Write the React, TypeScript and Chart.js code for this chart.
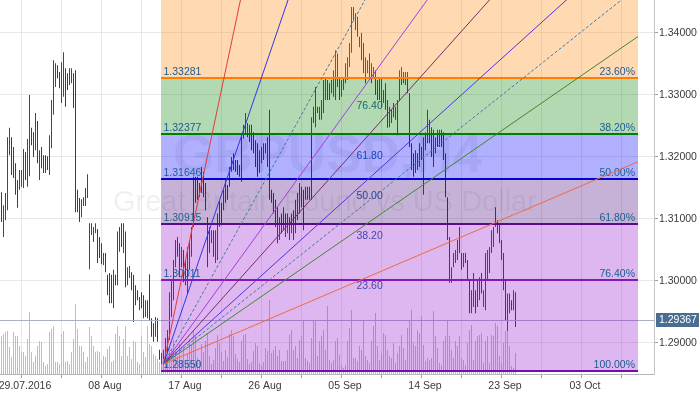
import React, { useEffect, useRef } from 'react';
import { Chart, registerables } from 'chart.js';

Chart.register(...registerables);

// ---- data (GBPUSD H4) ----
const highs = [
  1.3143,1.3122,1.3142,1.3232,1.3247,1.3232,1.3216,1.3190,1.3163,1.3179,
  1.3179,1.3213,1.3208,1.3229,1.3300,1.3247,1.3240,1.3271,1.3258,1.3211,
  1.3216,1.3203,1.3203,1.3201,1.3235,1.3292,1.3356,1.3351,1.3348,1.3337,
  1.3353,1.3369,1.3343,1.3335,1.3343,1.3343,1.3335,1.3340,1.3147,1.3134,
  1.3132,1.3135,1.3150,1.3172,1.3093,1.3093,1.3087,1.3093,1.3084,1.3071,
  1.3061,1.3045,1.3045,1.3010,1.3013,1.3010,1.3018,1.3010,1.3080,1.3087,
  1.3093,1.3093,1.3080,1.3022,1.3024,1.3014,1.3010,1.2993,1.2985,1.2974,
  1.2982,1.2977,1.2969,1.2969,1.3011,1.2940,1.2932,1.2942,1.2940,1.2889,
  1.2884,1.2889,1.2908,1.2921,1.2982,1.3002,1.3034,1.3066,1.3071,1.3061,
  1.3055,1.3050,1.3034,1.3055,1.3066,1.3087,1.3168,1.3168,1.3168,1.3158,
  1.3184,1.3176,1.3158,1.3103,1.3087,1.3082,1.3082,1.3082,1.3109,1.3131,
  1.3126,1.3147,1.3163,1.3155,1.3184,1.3200,1.3206,1.3195,1.3195,1.3187,
  1.3235,1.3252,1.3271,1.3255,1.3252,1.3252,1.3240,1.3227,1.3222,1.3211,
  1.3216,1.3222,1.3222,1.3232,1.3276,1.3147,1.3142,1.3131,1.3119,1.3103,
  1.3109,1.3119,1.3109,1.3109,1.3103,1.3109,1.3114,1.3131,1.3142,1.3158,
  1.3152,1.3147,1.3152,1.3152,1.3152,1.3264,1.3281,1.3313,1.3281,1.3281,
  1.3292,1.3324,1.3329,1.3324,1.3319,1.3324,1.3340,1.3372,1.3367,1.3329,
  1.3324,1.3329,1.3351,1.3361,1.3384,1.3442,1.3442,1.3432,1.3426,1.3394,
  1.3400,1.3384,1.3361,1.3356,1.3367,1.3351,1.3345,1.3340,1.3324,1.3329,
  1.3327,1.3308,1.3319,1.3292,1.3281,1.3276,1.3287,1.3281,1.3292,1.3340,
  1.3345,1.3337,1.3337,1.3337,1.3303,1.3222,1.3206,1.3211,1.3206,1.3222,
  1.3216,1.3232,1.3240,1.3276,1.3260,1.3248,1.3244,1.3232,1.3244,1.3244,
  1.3244,1.3240,1.3206,1.3135,1.3071,1.3022,1.3045,1.3050,1.3066,1.3087,
  1.3045,1.3045,1.3045,1.3034,1.3002,1.2985,1.3013,1.2985,1.3002,1.3006,
  1.3013,1.2985,1.3045,1.3050,1.3055,1.3082,1.3087,1.3119,1.3098,1.3093,
  1.3066,1.3045,1.3002,1.2980,1.2980,1.2969,1.2985,1.2982,
];

const lows = [
  1.3095,1.3071,1.3098,1.3114,1.3203,1.3171,1.3166,1.3139,1.3118,1.3147,
  1.3152,1.3150,1.3163,1.3152,1.3169,1.3219,1.3200,1.3211,1.3190,1.3163,
  1.3182,1.3174,1.3174,1.3179,1.3171,1.3214,1.3268,1.3313,1.3327,1.3311,
  1.3287,1.3297,1.3281,1.3308,1.3316,1.3319,1.3279,1.3111,1.3111,1.3095,
  1.3103,1.3121,1.3121,1.3134,1.3019,1.3074,1.3063,1.3077,1.3029,1.3037,
  1.3027,1.3026,1.3014,1.2977,1.2964,1.2964,1.2956,1.2993,1.2993,1.3047,
  1.3055,1.3045,1.2990,1.2993,1.3005,1.2985,1.2934,1.2961,1.2969,1.2953,
  1.2956,1.2940,1.2942,1.2940,1.2937,1.2910,1.2902,1.2910,1.2902,1.2873,
  1.2864,1.2868,1.2873,1.2884,1.2905,1.2942,1.2969,1.3022,1.3039,1.3006,
  1.3022,1.2998,1.2993,1.2980,1.3018,1.3039,1.3087,1.3126,1.3131,1.3135,
  1.3142,1.3135,1.3114,1.3022,1.3045,1.3061,1.3039,1.3029,1.3034,1.3087,
  1.3090,1.3114,1.3126,1.3131,1.3152,1.3176,1.3179,1.3176,1.3171,1.3168,
  1.3160,1.3230,1.3238,1.3232,1.3224,1.3211,1.3206,1.3184,1.3168,1.3174,
  1.3190,1.3195,1.3206,1.3184,1.3131,1.3126,1.3109,1.3087,1.3061,1.3066,
  1.3077,1.3082,1.3071,1.3077,1.3066,1.3077,1.3066,1.3077,1.3098,1.3109,
  1.3119,1.3082,1.3131,1.3131,1.3131,1.3131,1.3255,1.3248,1.3271,1.3260,
  1.3260,1.3271,1.3292,1.3292,1.3292,1.3303,1.3297,1.3292,1.3313,1.3292,
  1.3297,1.3308,1.3319,1.3324,1.3345,1.3368,1.3421,1.3405,1.3394,1.3377,
  1.3356,1.3335,1.3319,1.3335,1.3324,1.3319,1.3329,1.3300,1.3292,1.3292,
  1.3281,1.3287,1.3276,1.3247,1.3248,1.3255,1.3264,1.3260,1.3235,1.3292,
  1.3316,1.3319,1.3316,1.3303,1.3216,1.3179,1.3168,1.3174,1.3179,1.3184,
  1.3195,1.3139,1.3211,1.3222,1.3222,1.3200,1.3184,1.3206,1.3216,1.3216,
  1.3216,1.3195,1.3135,1.3066,1.2997,1.2997,1.3022,1.3029,1.3034,1.3045,
  1.3018,1.3022,1.3029,1.3002,1.2948,1.2948,1.2958,1.2948,1.2958,1.2969,
  1.2980,1.2958,1.2953,1.3002,1.3013,1.3045,1.3055,1.3087,1.3077,1.3061,
  1.3034,1.2985,1.2937,1.2916,1.2948,1.2953,1.2953,1.2926,
];

// u = bullish bar, d = bearish bar
const barDirection = [
  'duuuuddddu','uuduuddudu','dddduuuudd','uudddudddd','uuuuuuuudd',
  'dudddduduu','duduuddddu','dduddddudd','uuuuuuuudd','udduuuuddu',
  'udddduduuu','duuduuuddd','uuuddddddu','uududddddu','dudududuuu',
  'dduuuuuudu','uuudduuudd','uuuuuudddd','dddudduddd','uudduuuuuu',
  'ududdddu' + 'uu','duuudduudu','ddddduuuud','duddduuduu','duuuuuuudd',
  'ddduudud',
].join('');

// tick volume (hundreds)
const tickVolume = [
  38,40,42,43,27,17,42,38,38,28, 22,22,18,35,62,22,12,18,28,33,
  32,12,8,10,42,45,48,12,12,10, 40,43,12,13,10,22,35,70,45,28,
  28,22,12,17,47,38,28,22,23,22, 13,18,17,25,28,12,13,40,48,38,
  18,35,48,18,27,15,33,32,12,10, 38,22,17,48,30,28,20,18,15,12,
  10,15,12,20,27,25,34,22,18,30, 14,26,11,20,35,29,44,38,16,12,
  30,22,33,40,18,10,14,26,39,31, 22,13,24,17,40,44,38,20,15,12,
  33,39,40,15,10,12,23,31,28,11, 9,12,26,23,74,21,24,28,18,24,
  13,13,13,24,39,44,24,28,16,34, 38,53,16,13,11,36,53,53,18,33,
  38,44,24,68,14,11,14,33,36,19, 9,6,9,33,46,64,16,16,13,28,
  24,53,18,14,11,33,48,61,28,14, 21,41,39,24,18,16,31,11,21,28,
  39,26,14,46,54,64,31,28,44,41, 58,29,13,16,14,16,63,38,26,11,
  9,33,38,53,38,24,16,33,28,38, 16,14,9,31,44,49,14,33,38,39,
  41,11,33,38,11,39,38,51,48,18, 11,31,43,43,28,8,6,21,
];

const dateLabels = ['29.07.2016', '08 Aug', '17 Aug', '26 Aug', '05 Sep', '14 Sep', '23 Sep', '03 Oct'];
const dateLabelIndex = [10, 50, 90, 130, 170, 210, 250, 290];
const gridIndex = [10, 30, 50, 70, 90, 110, 130, 150, 170, 190, 210, 230, 250, 270, 290, 310];
const priceTicks = [1.29, 1.30, 1.31, 1.32, 1.33, 1.34];
const lastPrice = 1.29367;

// Fibonacci retracement
const fibHigh = 1.34742;
const fibLow = 1.28550;
const fibStartIndex = 80;
const fibEndIndex = 318.25;
const fibLevels = [0, 23.6, 38.2, 50, 61.8, 76.4, 100];
const fibBandColors = [
  'rgba(255,128,0,0.3)', 'rgba(0,128,0,0.3)', 'rgba(0,0,255,0.31)',
  'rgba(65,0,118,0.3)', 'rgba(145,12,205,0.3)', 'rgba(145,12,205,0.3)',
];
const fibLineColors = ['#ff8000', '#ff8000', '#008000', '#0000d0', '#5a0a8c', '#8418b8', '#7010a8'];

// Fan
const fanOrigin = { index: 81, price: 1.2866 };
const fanEnd = { index: 175, price: 1.3414 };
const fanRatios = [2.618, 1.618, 1, 0.764, 0.618, 0.5, 0.44, 0.382, 0.236];
const fanColors = ['#e23c3c', '#3535e5', '#3f78a8', '#a83ce0', '#7a2a6a', '#5530e0', '#3f78a8', '#3a8a2a', '#ee6a45'];
const fanDashed = [false, false, true, false, false, false, true, false, false];
const fanLabelRatios = [0.764, 0.618, 0.5, 0.382, 0.236];
const fanLabels = ['76.40', '61.80', '50.00', '38.20', '23.60'];

const symbolText = 'GBPUSD,H4';
const symbolDesc = 'Great Britain Pound vs US Dollar';

const FONT = "'Liberation Sans Narrow', 'Liberation Sans', Arial, sans-serif";
const FS = 10.5;

const overlay = {
  id: 'mt4overlay',
  beforeDatasetsDraw(chart: any) {
    const { ctx, chartArea: a } = chart;
    ctx.save();
    ctx.beginPath();
    ctx.rect(a.left, a.top, a.right - a.left, a.bottom - a.top);
    ctx.clip();
    ctx.fillStyle = 'rgba(0,0,0,0.06)';
    ctx.textBaseline = 'alphabetic';
    ctx.textAlign = 'left';
    ctx.font = "bold 53px 'Liberation Sans', Arial, sans-serif";
    ctx.fillText(symbolText, 173, 172);
    ctx.font = "29px 'Liberation Sans', Arial, sans-serif";
    ctx.fillText(symbolDesc, 113, 211);
    ctx.restore();
  },
  afterDatasetsDraw(chart: any) {
    const { ctx, chartArea: a } = chart;
    const xs = chart.scales.x;
    const ys = chart.scales.y;
    ctx.save();
    ctx.beginPath();
    ctx.rect(a.left, a.top, a.right - a.left, a.bottom - a.top);
    ctx.clip();

    // current price line
    const yp = Math.round(ys.getPixelForValue(lastPrice)) + 0.5;
    ctx.strokeStyle = '#a9b0c2';
    ctx.lineWidth = 1;
    ctx.beginPath();
    ctx.moveTo(a.left, yp);
    ctx.lineTo(a.right, yp);
    ctx.stroke();

    const ox = xs.getPixelForValue(fanOrigin.index);
    const oy = ys.getPixelForValue(fanOrigin.price);
    const ex = xs.getPixelForValue(fanEnd.index);
    const dp = fanEnd.price - fanOrigin.price;

    // fan labels (under the fill)
    ctx.font = `${FS}px ${FONT}`;
    ctx.fillStyle = '#2460a0';
    ctx.textAlign = 'left';
    ctx.textBaseline = 'middle';
    fanLabelRatios.forEach((r, k) => {
      const py = ys.getPixelForValue(fanOrigin.price + r * dp);
      ctx.fillText(fanLabels[k], ex + 5, py + 2);
    });

    // fib bands
    const fx0 = xs.getPixelForValue(fibStartIndex);
    const fx1 = xs.getPixelForValue(fibEndIndex);
    const priceAt = (pct: number) => fibHigh - (pct / 100) * (fibHigh - fibLow);
    for (let k = 0; k < fibLevels.length - 1; k++) {
      const yt = ys.getPixelForValue(priceAt(fibLevels[k]));
      const yb = ys.getPixelForValue(priceAt(fibLevels[k + 1]));
      ctx.fillStyle = fibBandColors[k];
      ctx.fillRect(Math.floor(fx0), yt, fx1 - Math.floor(fx0), yb - yt);
    }
    // fib lines + labels
    fibLevels.forEach((pct, k) => {
      const pr = priceAt(pct);
      const ly = Math.round(ys.getPixelForValue(pr));
      ctx.strokeStyle = fibLineColors[k];
      ctx.lineWidth = 2;
      ctx.beginPath();
      ctx.moveTo(Math.floor(fx0), ly);
      ctx.lineTo(fx1, ly);
      ctx.stroke();
      ctx.fillStyle = '#1d5c91';
      ctx.textBaseline = 'alphabetic';
      ctx.textAlign = 'left';
      ctx.fillText(pr.toFixed(5), fx0 + 2, ly - 3);
      ctx.textAlign = 'right';
      ctx.fillText(pct.toFixed(2) + '%', fx1 - 3, ly - 3);
    });

    // fan lines
    ctx.save();
    ctx.beginPath();
    ctx.rect(a.left, a.top, fx1 - a.left, a.bottom - a.top);
    ctx.clip();
    fanRatios.forEach((r, k) => {
      const py = ys.getPixelForValue(fanOrigin.price + r * dp);
      const dx = ex - ox;
      const dy = py - oy;
      ctx.strokeStyle = fanColors[k];
      ctx.lineWidth = 1;
      ctx.setLineDash(fanDashed[k] ? [3, 2] : []);
      ctx.beginPath();
      ctx.moveTo(ox, oy);
      ctx.lineTo(ox + dx * 30, oy + dy * 30);
      ctx.stroke();
    });
    ctx.restore();
    ctx.restore();
  },
  afterDraw(chart: any) {
    const { ctx, chartArea: a } = chart;
    const ys = chart.scales.y;
    const yp = Math.round(ys.getPixelForValue(lastPrice));
    ctx.save();
    ctx.fillStyle = '#4a6e91';
    ctx.fillRect(a.right + 2, yp - 7, 43, 14);
    ctx.fillStyle = '#ffffff';
    ctx.font = `${FS}px ${FONT}`;
    ctx.textAlign = 'left';
    ctx.textBaseline = 'middle';
    ctx.fillText(lastPrice.toFixed(5), a.right + 5, yp + 0.5);
    ctx.restore();
  },
};

export default function App() {
  const ref = useRef<HTMLCanvasElement>(null);
  useEffect(() => {
    const canvas = ref.current;
    if (!canvas) return;
    const up: any[] = [];
    const down: any[] = [];
    highs.forEach((h, i) => {
      const pt = { x: i, y: [lows[i], h] };
      if (barDirection[i] === 'u') up.push(pt);
      else down.push(pt);
    });
    const labelMap = new Map<number, string>();
    dateLabelIndex.forEach((idx, k) => labelMap.set(idx, dateLabels[k]));

    const barCommon = { barThickness: 1, grouped: false, borderWidth: 0, inflateAmount: 0 };
    const chart = new Chart(canvas, {
      type: 'bar',
      data: {
        datasets: [
          {
            label: 'Volume',
            data: tickVolume.map((v, i) => ({ x: i, y: v })),
            yAxisID: 'yv',
            backgroundColor: '#87cefa',
            ...barCommon,
          } as any,
          {
            label: 'Up',
            data: up,
            yAxisID: 'y',
            backgroundColor: '#22602a',
            ...barCommon,
          } as any,
          {
            label: 'Down',
            data: down,
            yAxisID: 'y',
            backgroundColor: '#6b2b26',
            ...barCommon,
          } as any,
        ],
      },
      options: {
        responsive: false,
        animation: false,
        devicePixelRatio: 1,
        events: [],
        layout: { padding: 0 },
        plugins: { legend: { display: false }, tooltip: { enabled: false } },
        scales: {
          x: {
            type: 'linear',
            position: 'bottom',
            min: -0.75,
            max: 326.25,
            offset: false,
            afterBuildTicks: (s: any) => {
              s.ticks = gridIndex.map((v) => ({ value: v }));
            },
            afterFit: (s: any) => {
              s.height = 20;
              s.paddingLeft = 0;
              s.paddingRight = 0;
            },
            grid: { offset: false, color: '#e8e8e8', tickLength: 4, tickColor: '#a0a0a0' },
            border: { color: '#b4b4bc' },
            ticks: {
              autoSkip: false,
              maxRotation: 0,
              minRotation: 0,
              padding: 2,
              labelOffset: 3.5,
              color: '#3a3a3a',
              font: { family: FONT, size: FS },
              callback: (v: any) => labelMap.get(Number(v)) ?? '',
            },
          },
          y: {
            type: 'linear',
            position: 'right',
            min: 1.285,
            max: 1.34532,
            afterBuildTicks: (s: any) => {
              s.ticks = priceTicks.map((v) => ({ value: v }));
            },
            afterFit: (s: any) => {
              s.width = 46;
              s.paddingTop = 0;
              s.paddingBottom = 0;
            },
            grid: { color: '#e8e8e8', tickLength: 4, tickColor: '#a0a0a0' },
            border: { color: '#c4c4c4' },
            ticks: {
              padding: 1,
              color: '#3a3a3a',
              font: { family: FONT, size: FS },
              callback: (v: any) => Number(v).toFixed(5),
            },
          },
          yv: { type: 'linear', display: false, min: 0, max: 374 },
        },
      } as any,
      plugins: [overlay as any],
    });
    return () => chart.destroy();
  }, []);

  return (
    <div style={{ position: 'fixed', left: 0, top: 0, width: 700, height: 394, background: '#fff' }}>
      <canvas ref={ref} width={700} height={394} style={{ display: 'block', width: 700, height: 394 }} />
    </div>
  );
}
